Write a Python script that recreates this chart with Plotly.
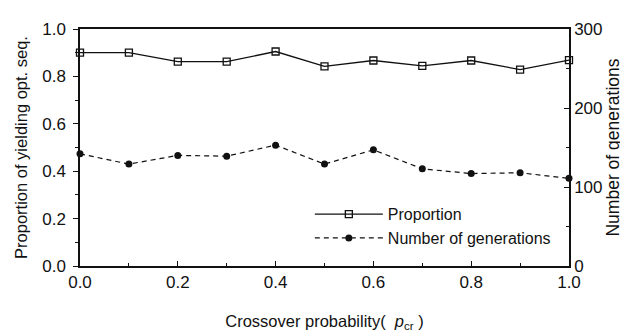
import plotly.graph_objects as go

crossover_prob = [0.0, 0.1, 0.2, 0.3, 0.4, 0.5, 0.6, 0.7, 0.8, 0.9, 1.0]
proportion = [0.90, 0.90, 0.862, 0.862, 0.905, 0.842, 0.867, 0.844, 0.867, 0.829, 0.869]
generations = [142, 129, 140, 139, 153, 129, 147, 123, 117, 118, 111]
x_ticks = [0.0, 0.2, 0.4, 0.6, 0.8, 1.0]
x_tick_labels = ["0.0", "0.2", "0.4", "0.6", "0.8", "1.0"]
left_ticks = [0.0, 0.2, 0.4, 0.6, 0.8, 1.0]
left_tick_labels = ["0.0", "0.2", "0.4", "0.6", "0.8", "1.0"]
right_ticks = [0, 100, 200, 300]

FAM = "Liberation Sans, Arial, sans-serif"
font = dict(family=FAM, size=17, color="#111")

fig = go.Figure()
fig.add_trace(go.Scatter(
    x=crossover_prob, y=proportion, name="Proportion", mode="lines+markers",
    line=dict(color="#111", width=1.3),
    marker=dict(symbol="square-open", size=7, color="#111", line=dict(width=1.3)),
    cliponaxis=False,
))
fig.add_trace(go.Scatter(
    x=crossover_prob, y=generations, name="Number of generations", mode="lines+markers",
    yaxis="y2",
    line=dict(color="#111", width=1.2, dash="5px,4px"),
    marker=dict(symbol="circle", size=7, color="#111"),
    cliponaxis=False,
))

axis_common = dict(showgrid=False, zeroline=False, linecolor="#111", linewidth=1.5,
                   ticks="outside", tickcolor="#111", ticklen=5, tickfont=font)

fig.update_layout(
    width=628, height=332,
    margin=dict(l=72, r=67, t=14, b=73),
    paper_bgcolor="white", plot_bgcolor="white",
    font=font,
    showlegend=True,
    legend=dict(x=0.47, y=0.29, xanchor="left", yanchor="top", bgcolor="rgba(0,0,0,0)",
                font=dict(family=FAM, size=16, color="#111"),
                tracegroupgap=0, itemwidth=68),
    xaxis=dict(axis_common, range=[0, 1], tickvals=x_ticks,
               ticktext=x_tick_labels, ticks="inside",
               minor=dict(dtick=0.1, ticks="inside", ticklen=3, tickcolor="#111"),
               mirror=True, showline=True,
               title=dict(text="Crossover probability(  <i>p</i><sub>cr</sub> )", standoff=24,
                          font=dict(family=FAM, size=16.5))),
    yaxis=dict(axis_common, range=[0, 1], tickvals=left_ticks,
               ticktext=left_tick_labels,
               minor=dict(dtick=0.1, ticks="outside", ticklen=3, tickcolor="#111"),
               showline=True, ticklabelstandoff=4,
               title=dict(text="Proportion of yielding opt. seq.", standoff=10,
                          font=dict(family=FAM, size=16.5))),
    yaxis2=dict(axis_common, range=[0, 300], tickvals=right_ticks, overlaying="y",
                side="right", showline=True, ticks="inside",
                minor=dict(dtick=50, ticks="inside", ticklen=3, tickcolor="#111"),
                title=dict(text="Number of generations", standoff=4,
                           font=dict(family=FAM, size=17.5))),
)

fig.write_html("out.html")
